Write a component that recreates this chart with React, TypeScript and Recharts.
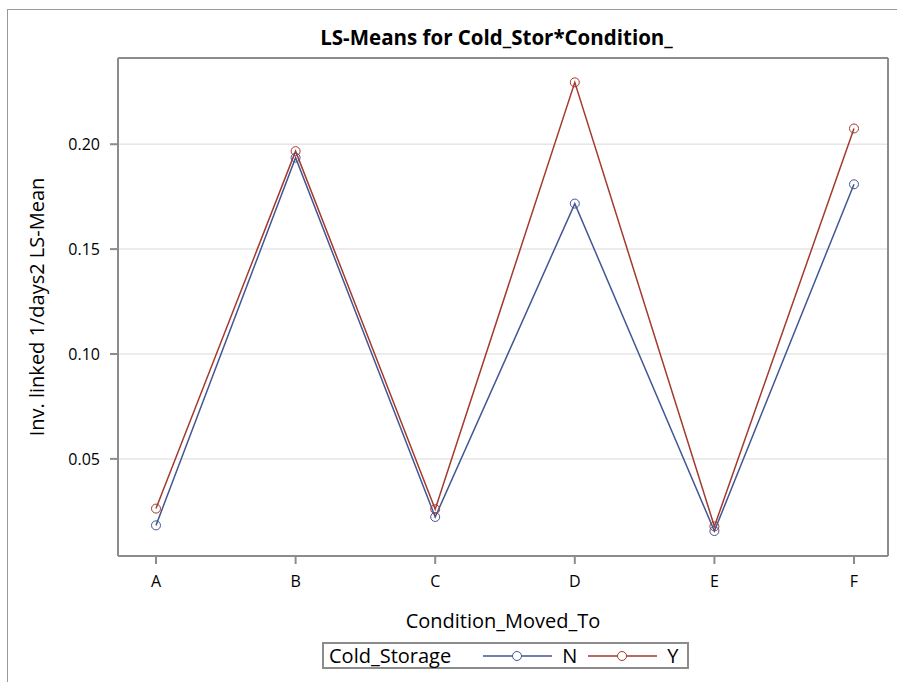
import { LineChart, Line, XAxis, YAxis, CartesianGrid, Legend } from 'recharts';

const CONDITIONS = ['A', 'B', 'C', 'D', 'E', 'F'];
const N_VALUES = [0.0183, 0.1936, 0.0223, 0.1717, 0.0156, 0.1809];
const Y_VALUES = [0.0263, 0.1967, 0.026, 0.2295, 0.0178, 0.2075];
const Y_TICKS = [0.05, 0.1, 0.15, 0.2];
const Y_DOMAIN: [number, number] = [0.0037, 0.2411];

const BLUE = '#445694';
const RED = '#A23A2E';
const FRAME = '#8c8c8c';
const FONT = '"Open Sans", "Liberation Sans", Arial, sans-serif';

const data = CONDITIONS.map((c, i) => ({ cond: c, N: N_VALUES[i], Y: Y_VALUES[i] }));

function Marker({ cx, cy, stroke }: any) {
  if (cx == null || cy == null) return null;
  return <circle cx={cx} cy={cy} r={4.5} fill="none" stroke={stroke} strokeWidth={1} />;
}

function LegendBox() {
  const item = (label: string, color: string, gap: number) => (
    <span style={{ display: 'inline-flex', alignItems: 'center', marginLeft: gap }}>
      <svg width={69} height={12}>
        <line x1={0} y1={6} x2={69} y2={6} stroke={color} strokeWidth={1.5} />
        <circle cx={34} cy={6} r={4.5} fill="white" stroke={color} strokeWidth={1} />
      </svg>
      <span style={{ marginLeft: 10 }}>{label}</span>
    </span>
  );
  return (
    <div style={{ display: 'flex', justifyContent: 'center' }}>
      <div
        style={{
          border: `2px solid ${FRAME}`,
          height: 23,
          width: 358,
          boxSizing: 'content-box',
          display: 'flex',
          alignItems: 'center',
          fontFamily: FONT,
          fontSize: 20,
          lineHeight: 1,
          color: '#000',
          paddingLeft: 5,
        }}
      >
        <span>Cold_Storage</span>
        {item('N', BLUE, 32)}
        {item('Y', RED, 11)}
      </div>
    </div>
  );
}

export default function App() {
  return (
    <div style={{ position: 'absolute', left: 0, top: 0, width: 897, height: 682, background: '#fff', overflow: 'hidden' }}>
      <div style={{ position: 'absolute', left: 7, top: 9, width: 1000, height: 1000, border: '1px solid #999' }} />
      <div
        style={{
          position: 'absolute',
          left: 118,
          width: 757,
          top: 23,
          textAlign: 'center',
          fontFamily: FONT,
          fontWeight: 'bold',
          fontSize: 20.5,
          color: '#000',
        }}
      >
        LS-Means for Cold_Stor*Condition_
      </div>
      <div style={{ position: 'absolute', left: 0, top: 0 }}>
        <LineChart width={897} height={682} data={data} margin={{ top: 58, right: 9, left: 58, bottom: 69 }}>
          <CartesianGrid horizontal vertical={false} stroke="#e6e6e6" strokeWidth={1.5} />
          {/* top and right edges of the plot frame */}
          <CartesianGrid
            stroke={FRAME}
            strokeWidth={2}
            horizontalCoordinatesGenerator={({ offset }: any) => [offset.top]}
            verticalCoordinatesGenerator={({ offset }: any) => [offset.left + offset.width]}
          />
          <XAxis
            dataKey="cond"
            type="category"
            padding={{ left: 38, right: 34 }}
            height={30}
            axisLine={{ stroke: FRAME, strokeWidth: 2 }}
            tickLine={{ stroke: FRAME, strokeWidth: 2 }}
            tickSize={8}
            tickMargin={12}
            tick={{ fill: '#000', fontSize: 16, fontFamily: FONT }}
            label={{ value: 'Condition_Moved_To', position: 'insideBottom', offset: -42, fill: '#000', fontSize: 20, fontFamily: FONT }}
          />
          <YAxis
            type="number"
            domain={Y_DOMAIN}
            ticks={Y_TICKS}
            allowDataOverflow
            width={60}
            tickFormatter={(v: number) => v.toFixed(2)}
            axisLine={{ stroke: FRAME, strokeWidth: 2 }}
            tickLine={{ stroke: FRAME, strokeWidth: 2 }}
            tickSize={8}
            tickMargin={10}
            tick={{ fill: '#000', fontSize: 16, fontFamily: FONT }}
            label={{
              value: 'Inv. linked 1/days2 LS-Mean',
              angle: -90,
              position: 'insideLeft',
              offset: -21,
              style: { textAnchor: 'middle' },
              fill: '#000',
              fontSize: 20,
              fontFamily: FONT,
            }}
          />
          <Line
            dataKey="N"
            stroke={BLUE}
            strokeWidth={1.5}
            dot={<Marker stroke={BLUE} />}
            activeDot={false}
            isAnimationActive={false}
          />
          <Line
            dataKey="Y"
            stroke={RED}
            strokeWidth={1.5}
            dot={<Marker stroke={RED} />}
            activeDot={false}
            isAnimationActive={false}
          />
          <Legend
            verticalAlign="bottom"
            content={() => <LegendBox />}
            wrapperStyle={{ left: 0, width: 1011, bottom: 13 }}
          />
        </LineChart>
      </div>
    </div>
  );
}
